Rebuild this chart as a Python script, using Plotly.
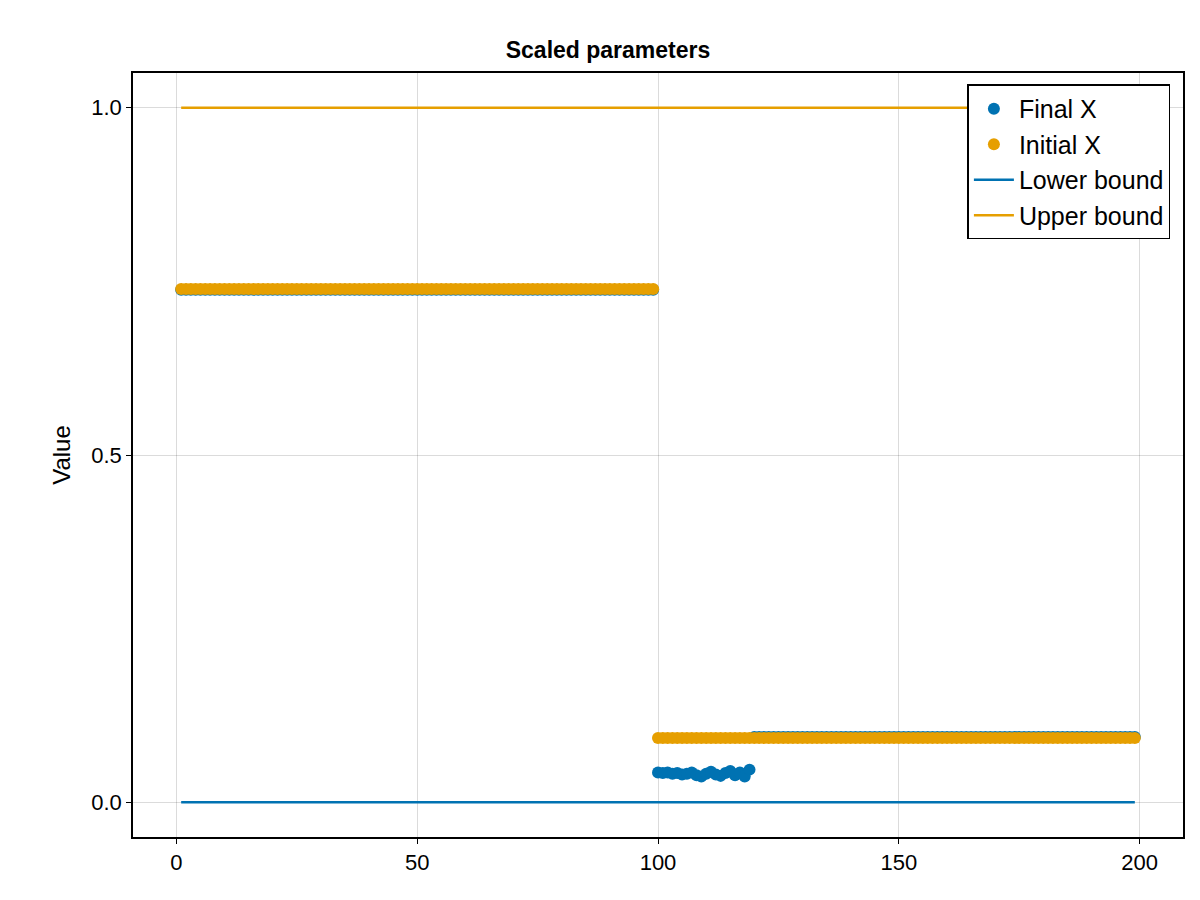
import plotly.graph_objects as go

# parameter index
idx = list(range(1, 200))

# scaled values
initial_x = [0.739] * 99 + [0.0925] * 100
final_x = ([0.738] * 99
           + [0.043, 0.042, 0.043, 0.041, 0.042, 0.040, 0.041, 0.043, 0.039, 0.037,
              0.041, 0.044, 0.040, 0.038, 0.042, 0.045, 0.039, 0.043, 0.037, 0.047]
           + [0.094] * 80)
lower = [0.0] * 199
upper = [1.0] * 199

BLUE = '#0072b2'
ORANGE = '#e69f00'

fig = go.Figure()
fig.add_trace(go.Scatter(x=idx, y=lower, mode='lines', name='Lower bound',
                         line=dict(color=BLUE, width=2.5), legendrank=3))
fig.add_trace(go.Scatter(x=idx, y=upper, mode='lines', name='Upper bound',
                         line=dict(color=ORANGE, width=2.5), legendrank=4))
fig.add_trace(go.Scatter(x=idx, y=final_x, mode='markers', name='Final X',
                         marker=dict(color=BLUE, size=12), legendrank=1))
fig.add_trace(go.Scatter(x=idx, y=initial_x, mode='markers', name='Initial X',
                         marker=dict(color=ORANGE, size=12), legendrank=2))

axis = dict(showline=True, mirror=True, linecolor='black', linewidth=1.5,
            gridcolor='rgba(0,0,0,0.14)', zeroline=False, ticks='outside',
            ticklen=5, tickcolor='black', tickfont=dict(size=22))
fig.update_layout(
    width=1200, height=900,
    plot_bgcolor='white', paper_bgcolor='white',
    font=dict(family='Liberation Sans, Arial', color='black'),
    title=dict(text='<b>Scaled parameters</b>', x=0.5, y=0.962, xanchor='center',
               font=dict(size=23)),
    margin=dict(l=125, r=25, t=65, b=71),
    xaxis=dict(axis, range=[-9, 209], tickvals=[0, 50, 100, 150, 200]),
    yaxis=dict(axis, range=[-0.05, 1.05], tickvals=[0, 0.5, 1.0],
               ticktext=['0.0', '0.5', '1.0'],
               title=dict(text='Value', font=dict(size=24), standoff=14)),
    legend=dict(x=0.988, y=0.985, xanchor='right', yanchor='top',
                bgcolor='white', bordercolor='black', borderwidth=1.5,
                font=dict(size=25), traceorder='normal', itemwidth=40),
)

fig.write_html("out.html")
